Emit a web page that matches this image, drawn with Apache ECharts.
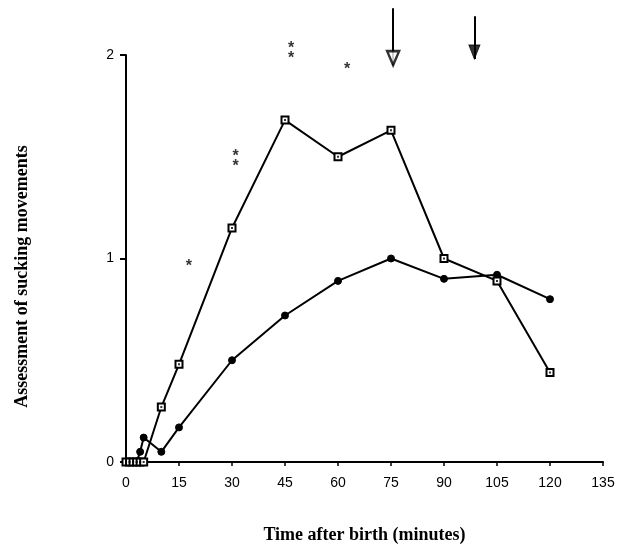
<!DOCTYPE html>
<html><head><meta charset="utf-8">
<script src="https://cdn.jsdelivr.net/npm/echarts@6/dist/echarts.min.js"></script>
<style>html,body{margin:0;padding:0;background:#fff}#c{width:621px;height:549px}</style>
</head><body><div id="c"></div>
<script>
// Data
const times = [0, 1, 2, 3, 4, 5, 10, 15, 30, 45, 60, 75, 90, 105, 120];
const openSquareValues = [0, 0, 0, 0, 0, 0, 0.27, 0.48, 1.15, 1.68, 1.5, 1.63, 1.0, 0.89, 0.44];
const filledValues = [0, 0, 0, 0, 0.05, 0.12, 0.05, 0.17, 0.5, 0.72, 0.89, 1.0, 0.9, 0.92, 0.8];
const asteriskX = [17.8, 31, 31, 46.7, 46.7, 62.6];
const asteriskY = [0.98, 1.52, 1.47, 2.05, 2.0, 1.95];
const arrowX = [75.6, 98.6];
const arrowTop = [2.23, 2.19];
const arrowTip = [1.95, 1.98];
const arrowOpen = [true, false];

const chart = echarts.init(document.getElementById('c'));
const pairs = (xs, ys) => xs.map((x, i) => [x, ys[i]]);
const serif = '"Liberation Serif","DejaVu Serif",serif';
const sans = '"Liberation Sans",Arial,sans-serif';

const HEAD_H = 14;
const arrowSeries = [];
arrowX.forEach((x, i) => {
  arrowSeries.push({
    type: 'lines', coordinateSystem: 'cartesian2d', silent: true, z: 5,
    symbol: ['none', 'none'],
    lineStyle: { color: '#000', width: 2, opacity: 1 },
    data: [{ coords: [[x, arrowTop[i]], [x, arrowTip[i]]] }],
    clip: false
  });
  arrowSeries.push({
    type: 'scatter', silent: true, z: 6, clip: false,
    data: [[x, arrowTip[i]]],
    symbol: 'triangle', symbolSize: arrowOpen[i] ? [12, HEAD_H] : [11, HEAD_H],
    symbolRotate: 180, symbolOffset: [0, -HEAD_H / 2],
    itemStyle: arrowOpen[i]
      ? { color: '#fff', borderColor: '#000', borderWidth: 2.5 }
      : { color: '#000', borderColor: '#000', borderWidth: 1 }
  });
});

chart.setOption({
  animation: false,
  backgroundColor: '#fff',
  grid: { left: 126, right: 18, top: 55, bottom: 87, containLabel: false, outerBoundsMode: 'none' },
  xAxis: {
    type: 'value', min: 0, max: 135, interval: 15,
    axisLine: { show: true, onZero: false, lineStyle: { color: '#000', width: 2 } },
    axisTick: { show: true, length: 4, lineStyle: { color: '#000', width: 1.5 } },
    axisLabel: { color: '#000', fontFamily: sans, fontSize: 14, margin: 14 },
    splitLine: { show: false },
    name: 'Time after birth (minutes)', nameLocation: 'middle', nameGap: 64,
    nameTextStyle: { color: '#000', fontFamily: serif, fontWeight: 'bold', fontSize: 18 }
  },
  yAxis: {
    type: 'value', min: 0, max: 2, interval: 1,
    axisLine: { show: true, lineStyle: { color: '#000', width: 2 } },
    axisTick: { show: true, length: 6, lineStyle: { color: '#000', width: 2 } },
    axisLabel: { color: '#000', fontFamily: sans, fontSize: 14, margin: 12 },
    splitLine: { show: false },
    name: 'Assessment of sucking movements', nameLocation: 'middle', nameGap: 95,
    nameTextStyle: { color: '#000', fontFamily: serif, fontWeight: 'bold', fontSize: 18, padding: [0, 36, 0, 0] }
  },
  series: [
    {
      type: 'line', data: pairs(times, filledValues), z: 3,
      symbol: 'circle', symbolSize: 7, showAllSymbol: true,
      lineStyle: { color: '#000', width: 2 },
      itemStyle: { color: '#000', borderColor: '#000' }
    },
    {
      type: 'line', data: pairs(times, openSquareValues), z: 4,
      symbol: 'rect', symbolSize: 7, showAllSymbol: true,
      lineStyle: { color: '#000', width: 2 },
      itemStyle: { color: '#fff', borderColor: '#000', borderWidth: 2 }
    },
    {
      type: 'scatter', data: pairs(times, openSquareValues), z: 5, silent: true,
      symbol: 'rect', symbolSize: 2, itemStyle: { color: '#000' }
    },
    {
      type: 'scatter', data: pairs(asteriskX, asteriskY), z: 6,
      symbolSize: 1, itemStyle: { color: 'rgba(0,0,0,0)' }, clip: false,
      label: { show: true, position: 'inside', formatter: '*', color: '#000', fontFamily: sans, fontSize: 16, fontWeight: 'bold', offset: [0, 4] }
    }
  ].concat(arrowSeries)
});
</script></body></html>
